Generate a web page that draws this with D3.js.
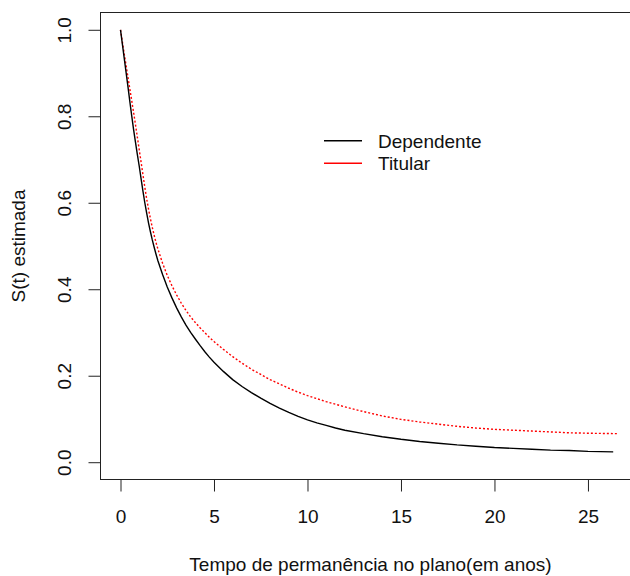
<!DOCTYPE html>
<html>
<head>
<meta charset="utf-8">
<script src="https://cdn.jsdelivr.net/npm/d3@7/dist/d3.min.js"></script>
<style>
  html, body { margin: 0; padding: 0; background: #fff; }
  svg { display: block; }
  text { font-family: "Liberation Sans", Arial, sans-serif; fill: #111; }
</style>
</head>
<body>
<svg id="chart" width="630" height="576"></svg>
<script>
// ---- Data ----
const seriesNames = ["Dependente", "Titular"];
const seriesColors = ["#000000", "#ff0000"];

const timeDependente = [0, 0.1, 0.2, 0.3, 0.4, 0.5, 0.6, 0.7, 0.8, 0.9, 1.0, 1.1, 1.2, 1.3, 1.4, 1.5, 1.6, 1.7, 1.8, 1.9, 2.0,
  2.25, 2.5, 2.75, 3.0, 3.25, 3.5, 3.75, 4.0, 4.25, 4.5, 4.75, 5.0, 5.5, 6.0, 6.5, 7.0, 7.5, 8.0, 8.5, 9.0, 9.5,
  10, 10.5, 11, 11.5, 12, 13, 14, 15, 16, 17, 18, 19, 20, 21, 22, 23, 24, 25, 26.35];
const survDependente = [1.000, 0.967, 0.934, 0.901, 0.868, 0.834, 0.801, 0.769, 0.740, 0.712, 0.685, 0.656, 0.627, 0.600, 0.576, 0.553, 0.533, 0.514, 0.497, 0.481, 0.466,
  0.434, 0.405, 0.380, 0.357, 0.336, 0.317, 0.300, 0.285, 0.270, 0.256, 0.243, 0.231, 0.210, 0.191, 0.175, 0.161, 0.148, 0.136, 0.125, 0.115, 0.106,
  0.098, 0.091, 0.085, 0.079, 0.074, 0.066, 0.059, 0.053, 0.048, 0.044, 0.040, 0.037, 0.034, 0.032, 0.030, 0.028, 0.027, 0.025, 0.024];

const timeTitular = [0, 0.1, 0.2, 0.3, 0.4, 0.5, 0.6, 0.7, 0.8, 0.9, 1.0, 1.1, 1.2, 1.3, 1.4, 1.5, 1.6, 1.7, 1.8, 1.9, 2.0,
  2.25, 2.5, 2.75, 3.0, 3.25, 3.5, 3.75, 4.0, 4.25, 4.5, 4.75, 5.0, 5.5, 6.0, 6.5, 7.0, 7.5, 8.0, 8.5, 9.0, 9.5,
  10, 10.5, 11, 11.5, 12, 13, 14, 15, 16, 17, 18, 19, 20, 21, 22, 23, 24, 25, 26.6];
const survTitular = [1.000, 0.972, 0.944, 0.917, 0.890, 0.863, 0.836, 0.809, 0.781, 0.752, 0.723, 0.694, 0.665, 0.636, 0.609, 0.585, 0.563, 0.543, 0.525, 0.508, 0.493,
  0.460, 0.432, 0.408, 0.387, 0.368, 0.351, 0.336, 0.323, 0.311, 0.300, 0.289, 0.279, 0.261, 0.244, 0.229, 0.215, 0.203, 0.191, 0.181, 0.171, 0.162,
  0.154, 0.147, 0.140, 0.134, 0.128, 0.117, 0.107, 0.099, 0.093, 0.088, 0.083, 0.079, 0.076, 0.074, 0.072, 0.070, 0.068, 0.067, 0.066];

const xTicks = [0, 5, 10, 15, 20, 25];
const yTicks = [0.0, 0.2, 0.4, 0.6, 0.8, 1.0];
const xLabel = "Tempo de permanência no plano(em anos)";
const yLabel = "S(t) estimada";

// ---- Layout ----
const svg = d3.select("#chart");
const box = { left: 100.5, right: 640.5, top: 12.5, bottom: 479.5 };

const x = d3.scaleLinear().domain([-1.07, 27.81]).range([box.left, box.right]);
const y = d3.scaleLinear().domain([-0.04, 1.04]).range([box.bottom, box.top]);

svg.append("rect").attr("x", 0).attr("y", 0).attr("width", 630).attr("height", 576).attr("fill", "#fff");

// curves
const series = [
  { name: seriesNames[0], color: seriesColors[0], t: timeDependente, s: survDependente, dash: null },
  { name: seriesNames[1], color: seriesColors[1], t: timeTitular, s: survTitular, dash: "2,2" }
];
const line = d3.line().x(d => x(d[0])).y(d => y(d[1])).curve(d3.curveLinear);

series.slice().reverse().forEach(sr => {
  const pts = sr.t.map((t, i) => [t, sr.s[i]]);
  svg.append("path")
    .attr("d", line(pts))
    .attr("fill", "none")
    .attr("stroke", sr.color)
    .attr("stroke-width", 1.4)
    .attr("stroke-dasharray", sr.dash);
});

// box
svg.append("rect")
  .attr("x", box.left).attr("y", box.top)
  .attr("width", box.right - box.left).attr("height", box.bottom - box.top)
  .attr("fill", "none").attr("stroke", "#222").attr("stroke-width", 1);

// x axis
const xAxis = svg.append("g").attr("transform", `translate(0,${box.bottom})`)
  .call(d3.axisBottom(x).tickValues(xTicks).tickSize(12).tickSizeOuter(0).tickFormat(d3.format("d")));
xAxis.select(".domain").attr("stroke", "#222").attr("d", `M${x(0)},0H${x(25)}`);
xAxis.selectAll(".tick line").attr("stroke", "#222");
xAxis.selectAll(".tick text")
  .attr("y", 43.5).attr("dy", null)
  .attr("font-size", 19).attr("font-family", "Liberation Sans, Arial, sans-serif").attr("fill", "#111");

// y axis
const yAxis = svg.append("g").attr("transform", `translate(${box.left},0)`)
  .call(d3.axisLeft(y).tickValues(yTicks).tickSize(12).tickSizeOuter(0).tickFormat(d3.format(".1f")));
yAxis.select(".domain").attr("stroke", "#222").attr("d", `M0,${y(0)}V${y(1)}`);
yAxis.selectAll(".tick line").attr("stroke", "#222");
yAxis.selectAll(".tick text")
  .attr("transform", "rotate(-90)")
  .attr("x", 0).attr("y", -29.5).attr("dy", null)
  .attr("text-anchor", "middle")
  .attr("font-size", 19).attr("font-family", "Liberation Sans, Arial, sans-serif").attr("fill", "#111");

// axis titles
svg.append("text")
  .attr("x", (box.left + box.right) / 2).attr("y", 571)
  .attr("text-anchor", "middle").attr("font-size", 19)
  .text(xLabel);
svg.append("text")
  .attr("transform", `translate(25,${(box.top + box.bottom) / 2}) rotate(-90)`)
  .attr("text-anchor", "middle").attr("font-size", 19)
  .text(yLabel);

// legend
const legend = svg.append("g");
series.forEach((sr, i) => {
  const ly = 140.7 + i * 22.6;
  legend.append("line")
    .attr("x1", 324).attr("x2", 362).attr("y1", ly).attr("y2", ly)
    .attr("stroke", sr.color).attr("stroke-width", 1.4);
  legend.append("text")
    .attr("x", 378).attr("y", ly + 6.9)
    .attr("font-size", 19)
    .text(sr.name);
});
</script>
</body>
</html>
